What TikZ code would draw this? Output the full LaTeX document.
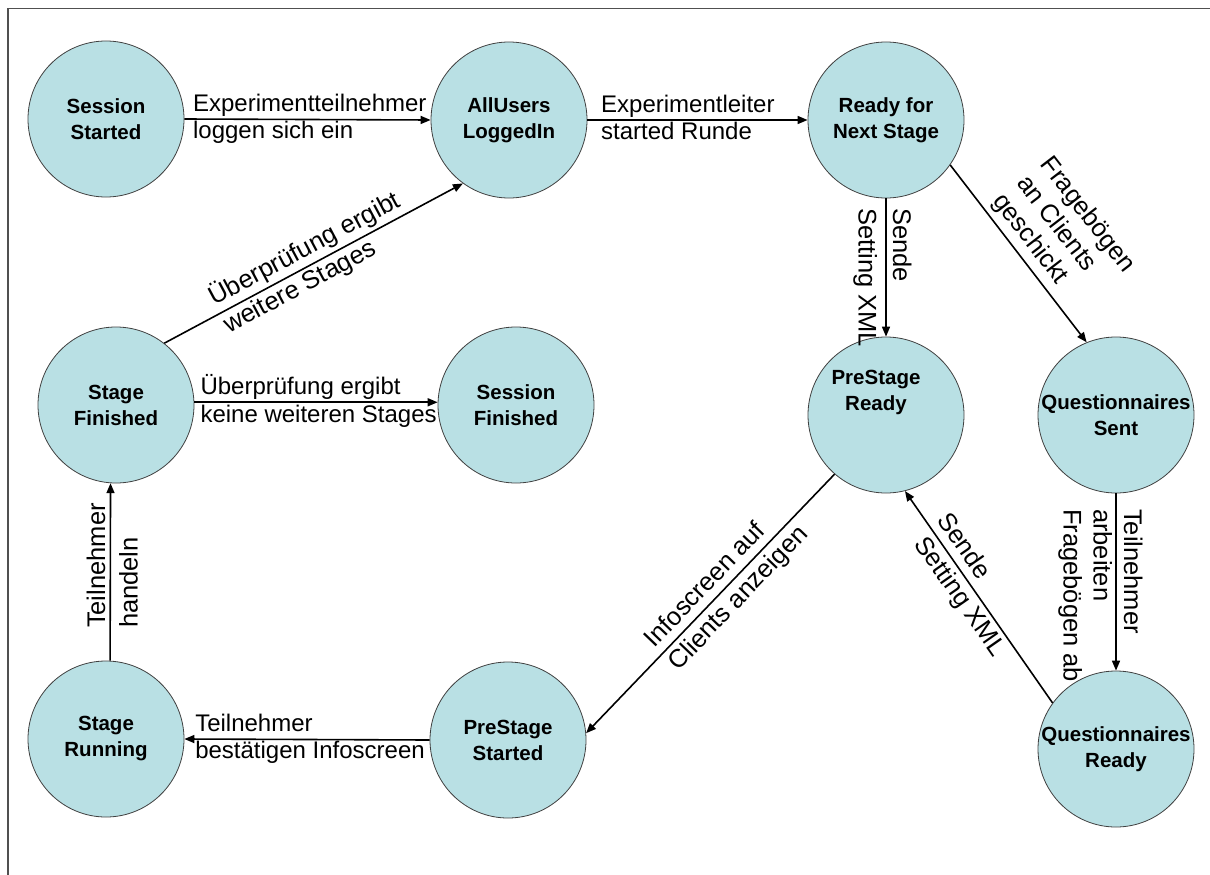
\documentclass[tikz,border=0pt]{standalone}
\usepackage{fontspec}
\setmainfont{Liberation Sans}
\usetikzlibrary{arrows.meta}
\definecolor{statefill}{RGB}{185,224,228}
\definecolor{framegray}{RGB}{80,80,80}
\newcommand\edgefont{\fontsize{24}{29}\selectfont}
\newcommand\tiltfont{\fontsize{25.5}{30}\selectfont}
\newcommand\estrut{\rule[-.25em]{0pt}{1em}}
\tikzset{
  state/.style={circle, draw=black!75, line width=0.8pt, fill=statefill,
    minimum size=156pt, inner sep=0pt},
  stext/.style={font=\bfseries\fontsize{20.5}{26}\selectfont, align=center, inner sep=0pt},
  edge/.style={line width=1.6pt, -{Triangle[length=10pt,width=8pt]}},
  redge/.style={line width=1.6pt, {Triangle[length=10pt,width=8pt]}-},
  lbl/.style={font=\edgefont, align=left, inner xsep=0pt,
    execute at begin node=\estrut, execute at end node=\estrut},
  tilted/.style={font=\tiltfont},
  lblup/.style={lbl, anchor=south west, inner ysep=#1},
  lbldn/.style={lbl, anchor=north west, inner ysep=#1},
}
\begin{document}
\begin{tikzpicture}[x=1pt, y=-1pt]
\useasboundingbox (0,0) rectangle (1210,875);
% frame on the top and left
\draw[framegray, line width=1.5pt] (1210,8.5) -- (8,8.5) -- (8,875);

% states
\node[state, label={[name=ss-t, stext]center:Session\\Started}] (ss) at (106,119) {};
\node[state, label={[name=au-t, stext]center:AllUsers\\LoggedIn}] (au) at (509,120) {};
\node[state, label={[name=rn-t, stext]center:Ready for\\Next Stage}] (rn) at (886,120) {};
\node[state, label={[name=sf-t, stext]center:Stage\\Finished}] (sf) at (116,405) {};
\node[state, label={[name=sesf-t, stext]center:Session\\Finished}] (sesf) at (516,405) {};
\node[state, label={[name=pr-t, stext, xshift=-10pt, yshift=23pt]center:PreStage\\Ready}] (pr) at (886,415) {};
\node[state, label={[name=qs-t, stext]center:Questionnaires\\Sent}] (qs) at (1116,415) {};
\node[state, label={[name=sr-t, stext]center:Stage\\Running}] (sr) at (106,739) {};
\node[state, label={[name=ps-t, stext]center:PreStage\\Started}] (ps) at (508,740) {};
\node[state, label={[name=qr-t, stext]center:Questionnaires\\Ready}] (qr) at (1116,749) {};

% transitions
\draw[edge] (ss.east) -- (au.west)
  node[lblup=1pt, pos=0.032] (e1a) {Experimentteilnehmer}
  node[lbldn=1pt, pos=0.032] (e1b) {loggen sich ein};
\draw[edge] (au.east) -- (rn.west)
  node[lblup=1pt, pos=0.059] (e2a) {Experimentleiter}
  node[lbldn=1pt, pos=0.059] (e2b) {started Runde};
\draw[edge] (rn.south) -- (pr.north)
  node[lblup=0pt, tilted, rotate=-90, pos=0.065] (e3a) {Sende}
  node[lbldn=7.5pt, tilted, rotate=-90, pos=0.065] (e3b) {Setting XML};
\draw[edge] (rn.-35.5) -- (qs.112)
  node[lblup=4pt, tilted, sloped, pos=0.24] (e4a) {Fragebögen\\an Clients\\geschickt};
\draw[edge] (sf.52) -- (au.234)
  node[lblup=2pt, tilted, sloped, pos=0.18] (e5a) {Überprüfung ergibt}
  node[lbldn=2pt, tilted, sloped, pos=0.18] (e5b) {weitere Stages};
\draw[edge] (sf.2) -- (sesf.178)
  node[lblup=1pt, pos=0.022] (e6a) {Überprüfung ergibt}
  node[lbldn=1pt, pos=0.022] (e6b) {keine weiteren Stages};
\draw[redge] (sr.east) -- (ps.west)
  node[lblup=1pt, pos=0.041] (e7a) {Teilnehmer}
  node[lbldn=1pt, pos=0.041] (e7b) {bestätigen Infoscreen};
\draw[redge] (ps.5) -- (pr.-131)
  node[lblup=2pt, tilted, sloped, pos=0.3] (e8a) {Infoscreen auf}
  node[lbldn=4pt, tilted, sloped, pos=0.3] (e8b) {Clients anzeigen};
\draw[redge] (pr.-76) -- (qr.144)
  node[lblup=2pt, tilted, sloped, pos=0.16] (e9a) {Sende}
  node[lbldn=3pt, tilted, sloped, pos=0.185] (e9b) {Setting XML};
\draw[edge] (qs.south) -- (qr.north)
  node[lblup=1pt, tilted, rotate=-90, pos=0.084] (e10a) {Teilnehmer}
  node[lbldn=3pt, tilted, rotate=-90, pos=0.084] (e10b) {arbeiten\\Fragebögen ab};
\draw[edge] (sr.87) -- (sf.-94)
  node[lblup=-2pt, tilted, rotate=90, pos=0.18] (e11a) {Teilnehmer}
  node[lbldn=7.5pt, tilted, rotate=90, pos=0.18] (e11b) {handeln};
\end{tikzpicture}
\end{document}
